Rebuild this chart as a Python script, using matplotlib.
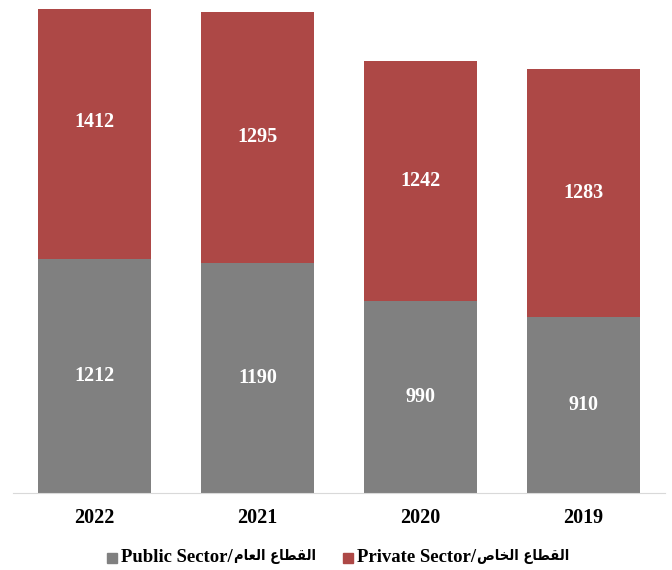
import matplotlib
matplotlib.use("Agg")
import matplotlib.pyplot as plt
from matplotlib.patches import Rectangle

years = ["2022", "2021", "2020", "2019"]
public = [1212, 1190, 990, 910]
private = [1412, 1295, 1242, 1283]

# arabic written in presentation forms, visual order (no shaping in matplotlib)
ar_public = "\uFEE1\uFE8E\uFECC\uFEDF\uFE8D \uFEC9\uFE8E\uFEC4\uFED8\uFEDF\uFE8D"
ar_private = "\uFEB9\uFE8E\uFEA8\uFEDF\uFE8D \uFEC9\uFE8E\uFEC4\uFED8\uFEDF\uFE8D"
legend_latin = ["Public Sector/", "Private Sector/"]
legend_arabic = [ar_public, ar_private]

gray = "#808080"
red = "#AD4846"
serif = ["Liberation Serif", "DejaVu Sans"]

W, H = 672, 570
fig = plt.figure(figsize=(6.72, 5.7), dpi=100)
ax = fig.add_axes([0.0193, 0.135, 0.9703, 0.8487])

x = range(len(years))
ax.bar(x, public, width=0.693, color=gray)
ax.bar(x, private, width=0.693, bottom=public, color=red)

for i in x:
    ax.text(i, public[i] / 2, str(public[i]), ha="center", va="center",
            color="white", fontweight="bold", fontsize=14.5, family=serif)
    ax.text(i, public[i] + private[i] / 2, str(private[i]), ha="center", va="center",
            color="white", fontweight="bold", fontsize=14.5, family=serif)

ax.set_xlim(-0.5, 3.5)
ax.set_ylim(0, 2500)
ax.set_xticks(list(x))
ax.set_xticklabels(years, fontweight="bold", fontsize=14.5, family=serif)
ax.tick_params(axis="x", length=0, pad=11)
ax.set_yticks([])
for s in ["top", "right", "left"]:
    ax.spines[s].set_visible(False)
ax.spines["bottom"].set_color("#D9D9D9")

# legend drawn by hand so the arabic part can use its own size
fig.canvas.draw()
renderer = fig.canvas.get_renderer()
y_leg = 558
for sq_x, col, lat, ar in zip([107, 343], [gray, red], legend_latin, legend_arabic):
    fig.patches.append(Rectangle((sq_x / W, (H - y_leg - 5) / H), 10 / W, 10 / H,
                                 color=col, transform=fig.transFigure))
    t = fig.text((sq_x + 14) / W, (H - y_leg) / H, lat, ha="left", va="center",
                 fontweight="bold", fontsize=13.5, family="Liberation Serif")
    bb = t.get_window_extent(renderer)
    fig.text(bb.x1 / W + 1 / W, (H - y_leg + 1) / H, ar, ha="left", va="center",
             fontweight="bold", fontsize=10.5, family="DejaVu Sans",
             fontstretch="condensed")

fig.savefig("out.png", dpi=100)
